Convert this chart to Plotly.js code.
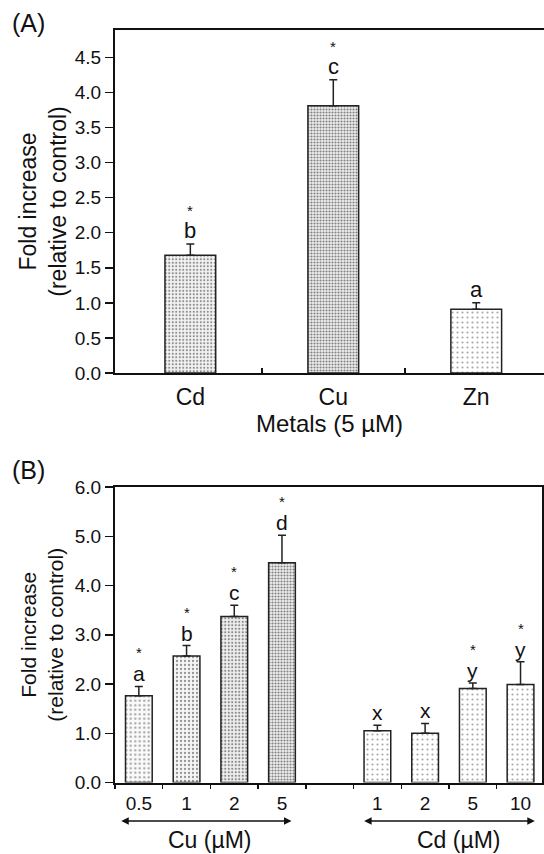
<!DOCTYPE html>
<html>
<head>
<meta charset="utf-8">
<script src="https://cdn.plot.ly/plotly-3.0.1.min.js"></script>
<style>html,body{margin:0;padding:0;background:#fff;}#chart{width:544px;height:854px;}</style>
</head>
<body>
<div id="chart"></div>
<script>
// ---------- Panel A data ----------
var metalsA = ['Cd', 'Cu', 'Zn'];
var foldA = [1.68, 3.81, 0.91];
var errA = [0.16, 0.37, 0.09];
var lettersA = ['b', 'c', 'a'];
var starsA = ['*', '*', ''];

// ---------- Panel B data ----------
var cuDoses = ['0.5', '1', '2', '5'];
var cuFold = [1.76, 2.57, 3.37, 4.46];
var cuErr = [0.19, 0.21, 0.23, 0.56];
var cuLetters = ['a', 'b', 'c', 'd'];
var cuStars = ['*', '*', '*', '*'];

var cdDoses = ['1', '2', '5', '10'];
var cdFold = [1.05, 1.00, 1.91, 1.99];
var cdErr = [0.11, 0.20, 0.11, 0.46];
var cdLetters = ['x', 'x', 'y', 'y'];
var cdStars = ['', '', '*', '*'];

var FONT = 'Liberation Sans, Arial, Helvetica, sans-serif';
var W = 544, H = 854;

var xA = metalsA.map(function (_, i) { return i; });
var xCu = cuDoses.map(function (_, i) { return i; });
var xCd = cdDoses.map(function (_, i) { return i + cuDoses.length + 1; });
var xB = xCu.concat(xCd);
var labB = cuDoses.concat(cdDoses);

function zeros(n) { var a = []; for (var i = 0; i < n; i++) a.push(0); return a; }

var traceA = {
  type: 'bar', x: xA, y: foldA, xaxis: 'x', yaxis: 'y', width: 0.355,
  marker: {
    color: '#f4f4f4',
    line: {color: '#222', width: 1.5},
    pattern: {
      shape: '.',
      fgcolor: ['#8f8f8f', '#7f7f7f', '#a8a8a8'],
      bgcolor: ['#f4f4f4', '#eeeeee', '#ffffff'],
      size: [3.5, 3, 5],
      solidity: [0.3, 0.38, 0.15]
    }
  },
  error_y: {type: 'data', symmetric: false, array: errA, arrayminus: zeros(errA.length),
            color: '#222', thickness: 1.5, width: 4},
  hoverinfo: 'none', showlegend: false
};

var traceCu = {
  type: 'bar', x: xCu, y: cuFold, xaxis: 'x2', yaxis: 'y2', width: 0.56,
  marker: {
    color: '#f4f4f4',
    line: {color: '#222', width: 1.5},
    pattern: {
      shape: '.',
      fgcolor: ['#a0a0a0', '#959595', '#8a8a8a', '#808080'],
      bgcolor: ['#fafafa', '#f5f5f5', '#f0f0f0', '#eeeeee'],
      size: [4.5, 4, 3.5, 3],
      solidity: [0.2, 0.25, 0.32, 0.38]
    }
  },
  error_y: {type: 'data', symmetric: false, array: cuErr, arrayminus: zeros(cuErr.length),
            color: '#222', thickness: 1.5, width: 4},
  hoverinfo: 'none', showlegend: false
};

var traceCd = {
  type: 'bar', x: xCd, y: cdFold, xaxis: 'x2', yaxis: 'y2', width: 0.56,
  marker: {
    color: '#ffffff',
    line: {color: '#222', width: 1.5},
    pattern: {shape: '.', fgcolor: '#a8a8a8', bgcolor: '#ffffff', size: 5, solidity: 0.15}
  },
  error_y: {type: 'data', symmetric: false, array: cdErr, arrayminus: zeros(cdErr.length),
            color: '#222', thickness: 1.5, width: 4},
  hoverinfo: 'none', showlegend: false
};

var annotations = [];
function addMarks(xs, vals, errs, letters, stars, xref, yref, lsize) {
  for (var i = 0; i < xs.length; i++) {
    var top = vals[i] + errs[i];
    if (letters[i]) {
      annotations.push({x: xs[i], y: top, xref: xref, yref: yref, text: letters[i],
        showarrow: false, yanchor: 'bottom', xanchor: 'center', yshift: 0, borderpad: 0,
        font: {family: FONT, size: lsize, color: '#111'}});
    }
    if (stars[i]) {
      annotations.push({x: xs[i], y: top, xref: xref, yref: yref, text: stars[i],
        showarrow: false, yanchor: 'bottom', xanchor: 'center', yshift: 24, borderpad: 0,
        font: {family: FONT, size: 15, color: '#111'}});
    }
  }
}
addMarks(xA, foldA, errA, lettersA, starsA, 'x', 'y', 22);
addMarks(xCu, cuFold, cuErr, cuLetters, cuStars, 'x2', 'y2', 21);
addMarks(xCd, cdFold, cdErr, cdLetters, cdStars, 'x2', 'y2', 21);

// panel labels
annotations.push({x: 28 / W, y: 1 - 23 / H, xref: 'paper', yref: 'paper', text: '(A)', showarrow: false,
  xanchor: 'center', yanchor: 'middle', font: {family: FONT, size: 25, color: '#111'}});
annotations.push({x: 28 / W, y: 1 - 470 / H, xref: 'paper', yref: 'paper', text: '(B)', showarrow: false,
  xanchor: 'center', yanchor: 'middle', font: {family: FONT, size: 25, color: '#111'}});

// group arrows
var arrowY = 1 - 821 / H;
function groupArrow(x0, x1) {
  annotations.push({x: x1, y: arrowY, xref: 'x2', yref: 'paper', ax: x0, axref: 'x2', ay: 0, ayref: 'pixel',
    text: '', showarrow: true, arrowside: 'end+start', arrowhead: 2, arrowsize: 1, arrowwidth: 1.5,
    arrowcolor: '#111', standoff: 0, startstandoff: 0});
}
groupArrow(xCu[0] - 0.4, xCu[xCu.length - 1] + 0.2);
groupArrow(xCd[0] - 0.31, xCd[xCd.length - 1] + 0.3);
annotations.push({x: (xCu[0] + xCu[xCu.length - 1]) / 2, y: 0, xref: 'x2', yref: 'paper', text: 'Cu (µM)',
  showarrow: false, xanchor: 'center', yanchor: 'bottom', borderpad: 0, font: {family: FONT, size: 23, color: '#111'}});
annotations.push({x: (xCd[0] + xCd[xCd.length - 1]) / 2 + 0.2, y: 0, xref: 'x2', yref: 'paper', text: 'Cd (µM)',
  showarrow: false, xanchor: 'center', yanchor: 'bottom', borderpad: 0, font: {family: FONT, size: 23, color: '#111'}});

var axLine = {showline: true, linecolor: '#111', linewidth: 2, mirror: true, showgrid: false, zeroline: false};

var layout = {
  width: W, height: H,
  margin: {l: 0, r: 0, t: 0, b: 0},
  paper_bgcolor: '#fff', plot_bgcolor: 'rgba(0,0,0,0)',
  font: {family: FONT, color: '#111'},
  bargap: 0,
  xaxis: Object.assign({}, axLine, {
    domain: [115 / W, 1], range: [-0.527, 2.474], anchor: 'y',
    tickmode: 'array', tickvals: xA, ticktext: metalsA, ticks: '', ticklen: 0,
    ticklabelstandoff: 2,
    tickfont: {family: FONT, size: 23, color: '#111'},
    minor: {tickmode: 'array', tickvals: [0.5, 1.5], ticks: 'inside', ticklen: 5, tickwidth: 1.5, tickcolor: '#111'},
    title: {text: 'Metals (5 µM)', font: {family: FONT, size: 24, color: '#111'}, standoff: 0}
  }),
  yaxis: Object.assign({}, axLine, {
    domain: [1 - 373 / H, 1 - 30 / H], range: [0, 4.89], anchor: 'x',
    tickmode: 'array', tickvals: [0, 0.5, 1, 1.5, 2, 2.5, 3, 3.5, 4, 4.5],
    tickformat: '.1f', ticks: 'outside', ticklen: 8, tickwidth: 1.5, tickcolor: '#111',
    tickfont: {family: FONT, size: 19, color: '#111'},
    title: {text: 'Fold increase<br>(relative to control)', font: {family: FONT, size: 23, color: '#111'}, standoff: 2}
  }),
  xaxis2: Object.assign({}, axLine, {
    domain: [115 / W, 542 / W], range: [-0.5, 8.45], anchor: 'y2',
    tickmode: 'array', tickvals: xB, ticktext: labB, ticks: '', ticklen: 0,
    ticklabelstandoff: 3,
    tickfont: {family: FONT, size: 19, color: '#111'},
    minor: {tickmode: 'array', tickvals: [-0.5, 0.5, 1.5, 2.5, 3.5, 4.5, 5.5, 6.5, 7.5],
            ticks: 'outside', ticklen: 4, tickwidth: 1.5, tickcolor: '#111'}
  }),
  yaxis2: Object.assign({}, axLine, {
    domain: [1 - 782.5 / H, 1 - 487 / H], range: [0, 6], anchor: 'x2',
    tickmode: 'array', tickvals: [0, 1, 2, 3, 4, 5, 6],
    tickformat: '.1f', ticks: 'outside', ticklen: 8, tickwidth: 1.5, tickcolor: '#111',
    tickfont: {family: FONT, size: 19, color: '#111'},
    title: {text: 'Fold increase<br>(relative to control)', font: {family: FONT, size: 21, color: '#111'}, standoff: 5}
  }),
  annotations: annotations
};

Plotly.newPlot('chart', [traceA, traceCu, traceCd], layout, {staticPlot: true, displayModeBar: false});
</script>
</body>
</html>
